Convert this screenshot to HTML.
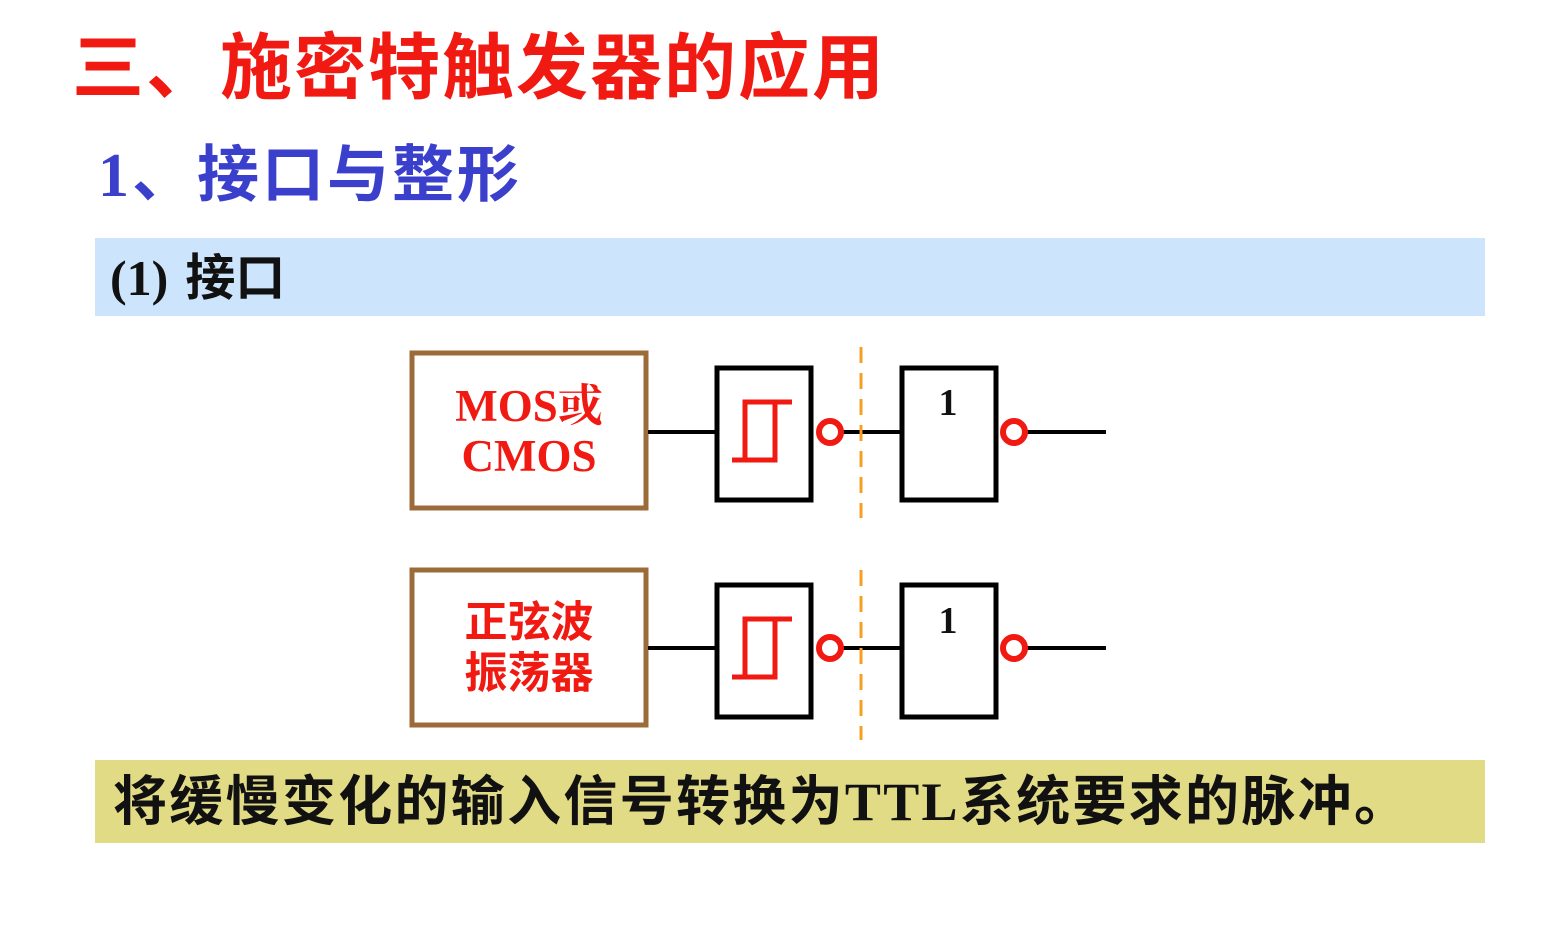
<!DOCTYPE html>
<html><head><meta charset="utf-8"><style>
body{margin:0;width:1542px;height:949px;background:#fff;position:relative;overflow:hidden;font-family:"Liberation Serif","Noto Serif CJK SC","Noto Sans CJK SC",serif}
.t{position:absolute;white-space:nowrap;font-weight:bold}
</style></head><body>
<div class="t" style="left:72px;top:24px;font-size:72px;color:#f01a12;letter-spacing:2px;font-family:'Liberation Sans','Noto Sans CJK SC',sans-serif;line-height:90px">三、施密特触发器的应用</div>
<div class="t" style="left:98px;top:138px;font-size:62px;color:#3a3fcc;line-height:76px;letter-spacing:3px;font-family:'Liberation Serif','Noto Sans CJK SC',serif">1、接口与整形</div>
<div style="position:absolute;left:95px;top:238px;width:1390px;height:78px;background:#cce4fc"></div>
<div class="t" style="left:110px;top:248px;font-size:50px;color:#111;line-height:60px;font-family:'Liberation Serif','Noto Sans CJK SC',serif">(1)<span style="display:inline-block;width:17px"></span>接口</div>
<div style="position:absolute;left:95px;top:760px;width:1390px;height:83px;background:#e2db86"></div>
<div class="t" style="left:113px;top:770px;font-size:54px;color:#111;line-height:64px;letter-spacing:2.3px;font-family:'Liberation Serif','Noto Sans CJK SC',serif">将缓慢变化的输入信号转换为TTL系统要求的脉冲。</div>
<svg style="position:absolute;left:0;top:0" width="1542" height="949">
<g fill="none">
<rect x="412" y="353" width="234" height="155" stroke="#9c6b3a" stroke-width="5"/>
<rect x="412" y="570" width="234" height="155" stroke="#9c6b3a" stroke-width="5"/>
<g stroke="#000" stroke-width="5">
<rect x="717" y="368" width="94" height="132"/><rect x="902" y="368" width="94" height="132"/>
<rect x="717" y="585" width="94" height="132"/><rect x="902" y="585" width="94" height="132"/>
</g>
<g stroke="#000" stroke-width="4">
<line x1="648" y1="432" x2="715" y2="432"/><line x1="842" y1="432" x2="900" y2="432"/><line x1="1026" y1="432" x2="1106" y2="432"/>
<line x1="648" y1="648" x2="715" y2="648"/><line x1="842" y1="648" x2="900" y2="648"/><line x1="1026" y1="648" x2="1106" y2="648"/>
</g>
<g stroke="#f01a12" stroke-width="6">
<circle cx="830" cy="432" r="11"/><circle cx="1014" cy="432" r="11"/>
<circle cx="830" cy="648" r="11"/><circle cx="1014" cy="648" r="11"/>
</g>
<g stroke="#f01a12" stroke-width="5">
<path d="M732 460H775V402M745 460V402H792"/>
<path d="M732 677H775V619M745 677V619H792"/>
</g>
<g stroke="#f5a020" stroke-width="3" stroke-dasharray="16,10">
<line x1="861" y1="347" x2="861" y2="518"/><line x1="861" y1="570" x2="861" y2="740"/>
</g>
</g>
<g font-family="Liberation Serif,Noto Serif CJK SC,serif" font-weight="bold" fill="#f01a12" font-size="45" text-anchor="middle">
<text x="529" y="421">MOS或</text><text x="529" y="471">CMOS</text>
<text x="529" y="637" font-family="Noto Sans CJK SC,sans-serif" font-size="43">正弦波</text>
<text x="529" y="688" font-family="Noto Sans CJK SC,sans-serif" font-size="43">振荡器</text>
</g>
<g font-family="Liberation Serif,serif" font-weight="bold" fill="#111" font-size="38" text-anchor="middle">
<text x="948" y="415">1</text><text x="948" y="633">1</text>
</g>
</svg>
</body></html>
